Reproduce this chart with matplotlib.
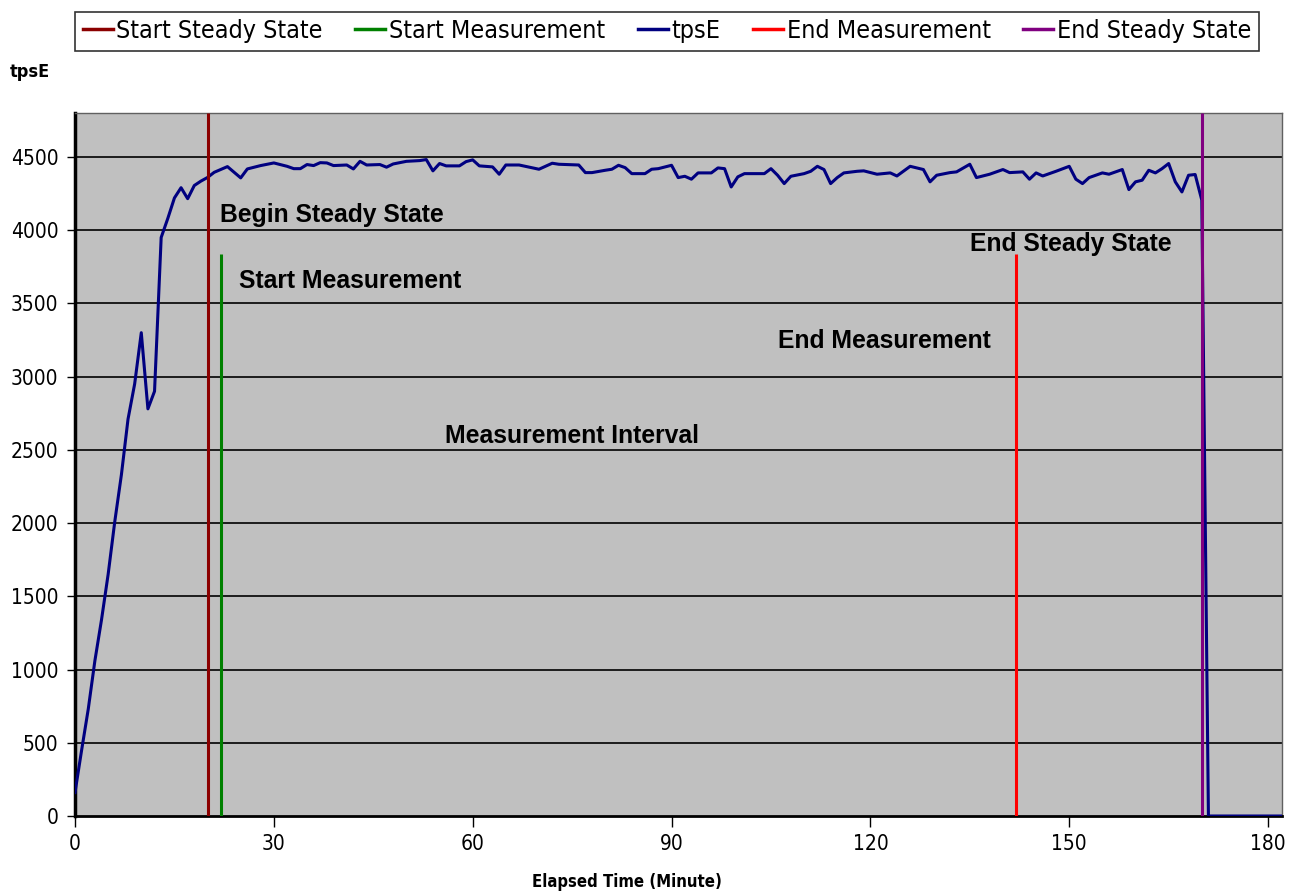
import matplotlib
matplotlib.use("Agg")
import matplotlib.pyplot as plt
from matplotlib import font_manager
from matplotlib.font_manager import FontProperties
from matplotlib.lines import Line2D

# ---------------- data ----------------
minutes = [0, 1, 2, 3, 4, 5, 6, 7, 8, 9, 10, 11, 12, 13, 14, 15, 16, 17, 18, 19, 20,
           21, 23, 25, 26, 28, 30, 32, 33, 34, 35, 36, 37, 38, 39, 41, 42, 43, 44, 46, 47, 48, 50, 52, 53,
           54, 55, 56, 58, 59, 60, 61, 63, 64, 65, 67, 70, 72, 73, 76, 77, 78, 80, 81, 82, 83, 84, 86, 87, 88,
           90, 91, 92, 93, 94, 96, 97, 98, 99, 100, 101, 104, 105, 106, 107, 108, 110, 111, 112, 113, 114,
           115, 116, 118, 119, 121, 123,
           124, 126, 128, 129, 130, 132, 133, 135, 136, 138, 140, 141, 143, 144, 145, 146, 148, 150, 151,
           152, 153, 155, 156, 158,
           159, 160, 161, 162, 163, 164, 165, 166, 167, 168, 169, 170, 171, 182]
tpsE = [160, 450, 730, 1060, 1340, 1650, 2010, 2330, 2710, 2950, 3300, 2780, 2900, 3950, 4080, 4220, 4290, 4215, 4305, 4335, 4360,
        4395, 4434, 4357, 4418, 4441, 4459, 4436, 4420, 4420, 4448, 4441, 4461, 4459, 4441, 4445, 4418, 4470, 4445, 4448, 4430, 4452, 4470, 4475, 4482,
        4405, 4455, 4439, 4439, 4468, 4480, 4439, 4432, 4382, 4445, 4445, 4416, 4457, 4450, 4445, 4393, 4393, 4409, 4416, 4443, 4427, 4386, 4386, 4416, 4420,
        4443, 4359, 4368, 4348, 4391, 4391, 4425, 4420, 4295, 4364, 4386, 4386, 4420, 4375, 4318, 4368, 4386, 4402, 4436, 4414, 4318,
        4359, 4391, 4402, 4405, 4382, 4391,
        4370, 4436, 4414, 4330, 4375, 4393, 4398, 4450, 4359, 4382, 4414, 4393, 4398, 4348, 4391, 4370, 4402, 4436, 4348,
        4318, 4359, 4391, 4382, 4414,
        4277, 4330, 4341, 4409, 4391, 4420, 4455, 4330, 4261, 4375, 4380, 4205, 0, 0]

marker_names = ["Start Steady State", "Start Measurement", "End Measurement", "End Steady State"]
marker_times = [20, 22, 142, 170]
marker_tops = [4800, 3840, 3840, 4800]
marker_colors = ["#8B0000", "#008000", "#FF0000", "#800080"]
series_color = "#000080"

annot_texts = ["Begin Steady State", "Start Measurement", "Measurement Interval",
               "End Measurement", "End Steady State"]
annot_x = [21.9, 24.7, 55.8, 106.1, 135.0]
annot_y = [4105, 3654, 2598, 3245, 3907]

x_ticks = [0, 30, 60, 90, 120, 150, 180]
y_ticks = [0, 500, 1000, 1500, 2000, 2500, 3000, 3500, 4000, 4500]

# ---------------- fonts ----------------
def find_font(keys, bold=False):
    for k in keys:
        for f in font_manager.fontManager.ttflist:
            fn = f.fname.lower()
            isbold = ("bold" in fn) or (str(f.weight) in ("bold", "700"))
            if isbold != bold:
                continue
            if "italic" in fn or "oblique" in fn:
                continue
            if k in fn:
                return f.fname
    return None

keys = ["liberationsansnarrow", "dejavusanscondensed", "robotocondensed", "opensanscondensed",
        "notosans-condensed", "notosanscondensed"]
narrow_reg = find_font(keys, bold=False)
narrow_bold = find_font(keys, bold=True)

def fp(size, bold=False):
    path = narrow_bold if bold else narrow_reg
    if path:
        return FontProperties(fname=path, size=size)
    return FontProperties(family=["Liberation Sans", "DejaVu Sans"], size=size,
                          weight="bold" if bold else "normal")

have_narrow = narrow_reg is not None
arial = ["Liberation Sans", "DejaVu Sans"]

# ---------------- figure ----------------
fig = plt.figure(figsize=(12.97, 8.91), dpi=100)
ax = fig.add_axes([75 / 1297, 75 / 891, 1207 / 1297, 703 / 891])
ax.set_facecolor("#C0C0C0")

for y in y_ticks[1:]:
    ax.axhline(y, color="black", lw=1.2, zorder=1)

ax.vlines(marker_times[0], 0, marker_tops[0], color=marker_colors[0], lw=2.2, zorder=4)
ax.vlines(marker_times[1], 0, marker_tops[1], color=marker_colors[1], lw=2.2, zorder=4)
ax.plot(minutes, tpsE, color=series_color, lw=2.2, zorder=3, solid_joinstyle="round")
ax.vlines(marker_times[2], 0, marker_tops[2], color=marker_colors[2], lw=2.2, zorder=4)
ax.vlines(marker_times[3], 0, marker_tops[3], color=marker_colors[3], lw=2.2, zorder=4)

leg_handles = [Line2D([], [], color=marker_colors[0], lw=2.5),
               Line2D([], [], color=marker_colors[1], lw=2.5),
               Line2D([], [], color=series_color, lw=2.5),
               Line2D([], [], color=marker_colors[2], lw=2.5),
               Line2D([], [], color=marker_colors[3], lw=2.5)]
leg_labels = [marker_names[0], marker_names[1], "tpsE", marker_names[2], marker_names[3]]
leg_size = 18 if have_narrow else 16
leg = fig.legend(leg_handles, leg_labels, ncol=5, loc="center",
                 bbox_to_anchor=(667 / 1297, 1 - 31 / 891),
                 frameon=True, fancybox=False, edgecolor="black",
                 handlelength=1.2, handletextpad=0.15,
                 columnspacing=1.3 if have_narrow else 1.9,
                 borderpad=0.3, prop=fp(leg_size))
leg.get_frame().set_linewidth(1.2)

for t, xx, yy in zip(annot_texts, annot_x, annot_y):
    ax.text(xx, yy, t, fontsize=17.8, fontweight="bold", family=arial,
            ha="left", va="center", color="black", zorder=5)

ax.set_xlim(0, 182.1)
ax.set_ylim(0, 4800)
ax.set_xticks(x_ticks)
ax.set_yticks(y_ticks)
ax.tick_params(axis="x", direction="out", length=8, width=1, pad=5)
ax.tick_params(axis="y", direction="out", length=6, width=1, pad=6)
tick_size = 15 if have_narrow else 15
for lab in ax.get_xticklabels() + ax.get_yticklabels():
    lab.set_fontproperties(fp(tick_size))

ax.spines["left"].set_linewidth(2.5)
ax.spines["left"].set_color("black")
ax.spines["bottom"].set_linewidth(2)
ax.spines["bottom"].set_color("black")
for s in ("top", "right"):
    ax.spines[s].set_color("#606060")
    ax.spines[s].set_linewidth(1)

fig.text(10 / 1297, 1 - 72 / 891, "tpsE", fontproperties=fp(13 if have_narrow else 12.5, bold=True),
         ha="left", va="center")
fig.text(627 / 1297, 1 - 882 / 891, "Elapsed Time (Minute)",
         fontproperties=fp(12 if have_narrow else 12, bold=True),
         ha="center", va="center")

fig.savefig("out.png", dpi=100)
